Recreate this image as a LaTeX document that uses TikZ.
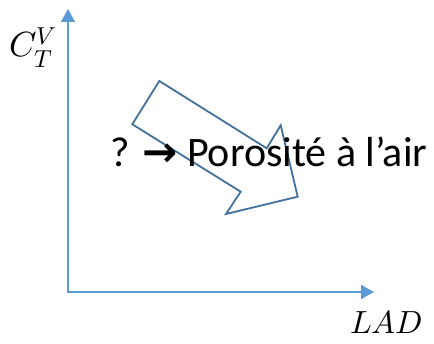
\documentclass[tikz,border=0pt]{standalone}
\usepackage{fontspec}
\usepackage{unicode-math}
\setmainfont{Carlito}
\setmathfont{Latin Modern Math}
\newfontfamily\arrowfont{DejaVu Sans}
\usetikzlibrary{arrows.meta}
\definecolor{axisblue}{HTML}{5B9BD5}
\definecolor{shapeblue}{HTML}{41719C}
\begin{document}
\begin{tikzpicture}[x=1pt,y=-1pt,
  axisline/.style={draw=axisblue,line width=1.6pt,-{Triangle[length=13pt,width=14pt]}},
  blockarrow/.style={draw=shapeblue,line width=1.8pt,line join=miter},
  mathlbl/.style={inner sep=0pt,font=\fontsize{35}{40}\selectfont},
  ladlbl/.style={inner sep=0pt,font=\fontsize{32}{38}\selectfont},
  mainlbl/.style={inner sep=0pt,font=\fontsize{42}{50}\selectfont}]
\useasboundingbox (0,0) rectangle (434,344);
\coordinate (origin) at (68,292);
\coordinate (ytip) at (68,9);
\coordinate (xtip) at (374,292);
\draw[axisline] ([xshift=-0.8pt]origin) -- (xtip);
\draw[axisline] ([yshift=0.8pt]origin) -- (ytip);
\draw[blockarrow] (159.3,81) -- (266.7,148.3) -- (280.7,125.3) -- (297.7,196.7)
  -- (226,214) -- (240.7,191.7) -- (132.3,124.3) -- cycle;
\node[mainlbl,anchor=base west] (txt) at (110,166.7) {? {\arrowfont\bfseries →} Porosité à l’air};
\node[mathlbl,anchor=base west] (cv) at (9,57) {$C_T^V$};
\node[ladlbl,anchor=base west] (lad) at (350,334) {$LAD$};
\end{tikzpicture}
\end{document}
